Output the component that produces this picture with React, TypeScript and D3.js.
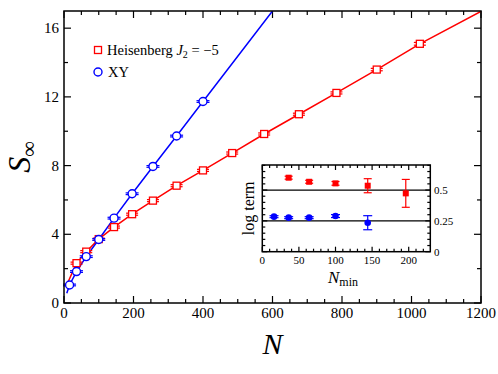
import React from "react";
import * as d3 from "d3";

// main panel data
const xyN = [16, 36, 64, 100, 144, 196, 256, 324, 400];
const xyS = [1.05, 1.83, 2.7, 3.7, 4.94, 6.36, 7.95, 9.72, 11.73];
const heisN = [36, 64, 100, 144, 196, 256, 324, 400, 484, 576, 676, 784, 900, 1024];
const heisS = [2.32, 2.99, 3.72, 4.42, 5.17, 5.96, 6.83, 7.72, 8.73, 9.84, 10.99, 12.23, 13.59, 15.09];
const heisErr = [0.06, 0.06, 0.06, 0.06, 0.06, 0.06, 0.06, 0.06, 0.06, 0.06, 0.06, 0.06, 0.07, 0.08];
const xyErr = [0.05, 0.05, 0.05, 0.05, 0.05, 0.05, 0.05, 0.05, 0.05];

// fit curves
const xyFitN = [8, 16, 36, 64, 100, 144, 196, 256, 324, 400, 600];
const xyFitS = [0.57, 1.05, 1.83, 2.7, 3.7, 4.94, 6.36, 7.95, 9.72, 11.73, 17.0];
const heisFitN = [12, 36, 64, 100, 144, 196, 256, 324, 400, 484, 576, 676, 784, 900, 1024, 1200];
const heisFitS = [1.24, 2.32, 2.99, 3.72, 4.42, 5.17, 5.96, 6.83, 7.72, 8.73, 9.84, 10.99, 12.23, 13.59, 15.09, 16.98];

const xTicks = [0, 200, 400, 600, 800, 1000, 1200];
const yTicks = [0, 4, 8, 12, 16];

// inset data
const inHeisN = [36, 64, 100, 144, 196];
const inHeisV = [0.6, 0.567, 0.554, 0.535, 0.473];
const inHeisE = [0.012, 0.012, 0.015, 0.057, 0.113];
const inXyN = [16, 36, 64, 100, 144];
const inXyV = [0.284, 0.276, 0.276, 0.289, 0.235];
const inXyE = [0.008, 0.008, 0.008, 0.012, 0.057];
const inRefLines = [0.5, 0.25];
const inXTicks = [0, 50, 100, 150, 200];
const inYTicks = [0, 0.25, 0.5];

const RED = "#ff0000";
const BLUE = "#0000ff";
const FONT = "'Liberation Serif', 'Times New Roman', serif";

const M = { left: 64, right: 481, top: 11, bottom: 303 };
const I = { left: 262.3, right: 430.3, top: 165, bottom: 251.7 };

export default function App() {
  const x = d3.scaleLinear().domain([0, 1200]).range([M.left, M.right]);
  const y = d3.scaleLinear().domain([0, 17]).range([M.bottom, M.top]);
  const ix = d3.scaleLinear().domain([0, 229.5]).range([I.left, I.right]);
  const iy = d3.scaleLinear().domain([0, 0.703]).range([I.bottom, I.top]);

  const line = d3
    .line<[number, number]>()
    .x((d) => x(d[0]))
    .y((d) => y(d[1]));

  const xyFit = line(xyFitN.map((n, i) => [n, xyFitS[i]]) as [number, number][]) || "";
  const heisFit = line(heisFitN.map((n, i) => [n, heisFitS[i]]) as [number, number][]) || "";

  const xMinor = d3.range(0, 1201, 50);
  const yMinor = d3.range(0, 17.01, 2);
  const ixMinor = d3.range(0, 230, 10);
  const iyMinor = d3.range(0, 0.701, 0.05);

  const errBar = (cx: number, y1: number, y2: number, cap: number, color: string, key: string) => (
    <g key={key} stroke={color} strokeWidth={1.2}>
      <line x1={cx} x2={cx} y1={y1} y2={y2} />
      <line x1={cx - cap} x2={cx + cap} y1={y1} y2={y1} />
      <line x1={cx - cap} x2={cx + cap} y1={y2} y2={y2} />
    </g>
  );

  return (
    <svg width={498} height={374} style={{ position: "absolute", left: 0, top: 0, background: "#fff" }} fontFamily={FONT}>
      <defs>
        <clipPath id="mainClip">
          <rect x={M.left} y={M.top} width={M.right - M.left} height={M.bottom - M.top} />
        </clipPath>
      </defs>

      {/* main ticks */}
      <g stroke="#000" strokeWidth={1.2}>
        {xMinor.map((v) => {
          const len = v % 200 === 0 ? 7 : 4;
          return (
            <g key={"xm" + v}>
              <line x1={x(v)} x2={x(v)} y1={M.bottom} y2={M.bottom - len} />
              <line x1={x(v)} x2={x(v)} y1={M.top} y2={M.top + len} />
            </g>
          );
        })}
        {yMinor.map((v) => {
          const len = v % 4 === 0 ? 7 : 4;
          return (
            <g key={"ym" + v}>
              <line x1={M.left} x2={M.left + len} y1={y(v)} y2={y(v)} />
              <line x1={M.right} x2={M.right - len} y1={y(v)} y2={y(v)} />
            </g>
          );
        })}
      </g>

      {xTicks.map((v) => (
        <text key={"xt" + v} x={x(v)} y={318} fontSize={15} textAnchor="middle">
          {v}
        </text>
      ))}
      {yTicks.map((v) => (
        <text key={"yt" + v} x={59} y={y(v) + 5} fontSize={15} textAnchor="end">
          {v}
        </text>
      ))}

      {/* axis labels */}
      <text x={(M.left + M.right) / 2} y={354} fontSize={30} fontStyle="italic" textAnchor="middle">
        N
      </text>
      <text transform={`translate(30,${(M.top + M.bottom) / 2}) rotate(-90)`} fontSize={32} textAnchor="middle">
        <tspan fontStyle="italic">S</tspan>
        <tspan fontSize={22} dy={6}>∞</tspan>
      </text>

      {/* fits */}
      <g clipPath="url(#mainClip)" fill="none" strokeWidth={1.5}>
        <path d={heisFit} stroke={RED} />
        <path d={xyFit} stroke={BLUE} />
      </g>

      {/* heisenberg points */}
      {heisN.map((n, i) => (
        <g key={"h" + n}>
          {errBar(x(n), y(heisS[i] + heisErr[i]), y(heisS[i] - heisErr[i]), 6, RED, "he" + n)}
          <rect x={x(n) - 3.5} y={y(heisS[i]) - 3.5} width={7} height={7} fill="#fff" stroke={RED} strokeWidth={1.3} />
        </g>
      ))}
      {xyN.map((n, i) => (
        <g key={"x" + n}>
          {errBar(x(n), y(xyS[i] + xyErr[i]), y(xyS[i] - xyErr[i]), 6.5, BLUE, "xe" + n)}
          <circle cx={x(n)} cy={y(xyS[i])} r={4} fill="#fff" stroke={BLUE} strokeWidth={1.4} />
        </g>
      ))}

      {/* frame */}
      <rect x={M.left} y={M.top} width={M.right - M.left} height={M.bottom - M.top} fill="none" stroke="#000" strokeWidth={1.5} />

      {/* legend */}
      <rect x={94.5} y={46.5} width={7} height={7} fill="#fff" stroke={RED} strokeWidth={1.3} />
      <text x={107} y={55} fontSize={14.5}>
        Heisenberg <tspan fontStyle="italic">J</tspan>
        <tspan fontSize={10} dy={3}>2</tspan>
        <tspan dy={-3}> = −5</tspan>
      </text>
      <circle cx={98} cy={72} r={4} fill="#fff" stroke={BLUE} strokeWidth={1.4} />
      <text x={108} y={77} fontSize={14.5}>
        XY
      </text>

      {/* inset */}
      <rect x={I.left} y={I.top} width={I.right - I.left} height={I.bottom - I.top} fill="#fff" stroke="none" />
      <g stroke="#000" strokeWidth={1.2}>
        {ixMinor.map((v) => {
          const len = v % 50 === 0 ? 5 : 3;
          return (
            <g key={"ixm" + v}>
              <line x1={ix(v)} x2={ix(v)} y1={I.bottom} y2={I.bottom - len} />
              <line x1={ix(v)} x2={ix(v)} y1={I.top} y2={I.top + len} />
            </g>
          );
        })}
        {iyMinor.map((v, k) => {
          const len = k % 5 === 0 ? 5 : 3;
          return (
            <g key={"iym" + k}>
              <line x1={I.left} x2={I.left + len} y1={iy(v)} y2={iy(v)} />
              <line x1={I.right} x2={I.right - len} y1={iy(v)} y2={iy(v)} />
            </g>
          );
        })}
      </g>
      {inRefLines.map((v) => (
        <line key={"rl" + v} x1={I.left} x2={I.right} y1={iy(v)} y2={iy(v)} stroke="#000" strokeWidth={1.3} />
      ))}
      {inHeisN.map((n, i) => (
        <g key={"ih" + n}>
          {errBar(ix(n), iy(inHeisV[i] + inHeisE[i]), iy(inHeisV[i] - inHeisE[i]), 4, RED, "ihe" + n)}
          <rect x={ix(n) - 3} y={iy(inHeisV[i]) - 3} width={6} height={6} fill={RED} />
        </g>
      ))}
      {inXyN.map((n, i) => (
        <g key={"ix" + n}>
          {errBar(ix(n), iy(inXyV[i] + inXyE[i]), iy(inXyV[i] - inXyE[i]), 4.5, BLUE, "ixe" + n)}
          <circle cx={ix(n)} cy={iy(inXyV[i])} r={3.3} fill={BLUE} />
        </g>
      ))}
      <rect x={I.left} y={I.top} width={I.right - I.left} height={I.bottom - I.top} fill="none" stroke="#000" strokeWidth={1.5} />
      {inXTicks.map((v) => (
        <text key={"ixt" + v} x={ix(v)} y={264} fontSize={11} textAnchor="middle">
          {v}
        </text>
      ))}
      {inYTicks.map((v) => (
        <text key={"iyt" + v} x={434} y={iy(v) + 4} fontSize={11}>
          {v}
        </text>
      ))}
      <text x={343} y={283} fontSize={17} textAnchor="middle">
        <tspan fontStyle="italic">N</tspan>
        <tspan fontSize={12} dy={3}>min</tspan>
      </text>
      <text transform={`translate(254,${(I.top + I.bottom) / 2}) rotate(-90)`} fontSize={16} textAnchor="middle">
        log term
      </text>
    </svg>
  );
}
